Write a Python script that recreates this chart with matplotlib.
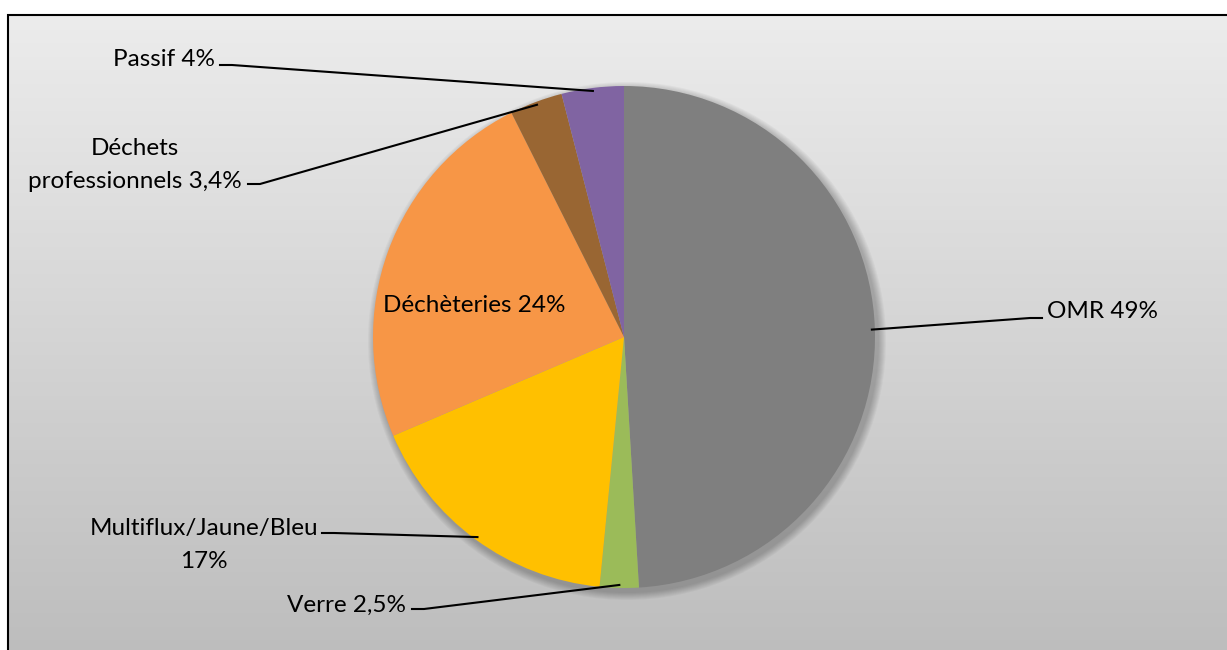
import numpy as np
import matplotlib.pyplot as plt
from matplotlib.patches import Rectangle, Circle

labels = ['OMR 49%', 'Verre 2,5%', 'Multiflux/Jaune/Bleu\n17%', 'Déchèteries 24%',
          'Déchets\nprofessionnels 3,4%', 'Passif 4%']
values = [49, 2.5, 17, 24, 3.4, 4]
colors = ['#7f7f7f', '#9bbb59', '#ffc000', '#f79646', '#996633', '#8064a2']

plt.rcParams['font.family'] = ['Lato', 'DejaVu Sans']

W, H = 1227, 650
fig = plt.figure(figsize=(W / 100, H / 100), dpi=100)
ax = fig.add_axes([0, 0, 1, 1])

# gradient background inside the chart frame
grad = np.linspace(0, 1, 256).reshape(-1, 1)
ax.imshow(grad, cmap=plt.matplotlib.colors.LinearSegmentedColormap.from_list(
    'bg', ['#bdbdbd', '#ececec']), extent=[8, W + 5, -5, H - 15],
    origin='lower', aspect='auto', zorder=0)
ax.add_patch(Rectangle((8, -5), W, H - 10, fill=False, ec='black', lw=1.5, zorder=1))

cx, cy, r = 624, H - 337, 251

# soft shadow
for i in range(8):
    ax.add_patch(Circle((cx + 3, cy - 4), r + 8 - i, color='black',
                        alpha=0.03, lw=0, zorder=1.5))

wedges, _ = ax.pie(values, colors=colors, startangle=90, counterclock=False,
                   center=(cx, cy), radius=r, frame=True,
                   wedgeprops=dict(lw=0, zorder=2))

fs = 17.5
# label positions (text anchor) and leader elbow points
text_pos = {
    0: (1047, H - 311, 'left'),
    1: (406, H - 605, 'right'),
    2: (204, H - 545, 'center'),
    4: (135, H - 165, 'center'),
    5: (215, H - 59, 'right'),
}
elbow = {
    0: [(1042, H - 318), (1030, H - 318)],
    1: [(412, H - 609), (424, H - 609)],
    2: [(322, H - 533), (334, H - 533)],
    4: [(248, H - 184), (260, H - 184)],
    5: [(220, H - 65), (232, H - 65)],
}

for i, w in enumerate(wedges):
    mid = np.deg2rad((w.theta1 + w.theta2) / 2)
    if i == 3:
        ax.text(474, H - 305, labels[i], ha='center', va='center', fontsize=fs, zorder=4)
        continue
    x, y, ha = text_pos[i]
    ax.text(x, y, labels[i], ha=ha, va='center', fontsize=fs,
            multialignment='center', linespacing=1.7, zorder=4)
    px = cx + (r - 3) * np.cos(mid)
    py = cy + (r - 3) * np.sin(mid)
    (ax0, ay0), (ax1, ay1) = elbow[i]
    ax.plot([ax0, ax1, px], [ay0, ay1, py], color='black', lw=1.5, zorder=3)

ax.set_xlim(0, W)
ax.set_ylim(0, H)
ax.axis('off')

fig.savefig('out.png', dpi=100)
